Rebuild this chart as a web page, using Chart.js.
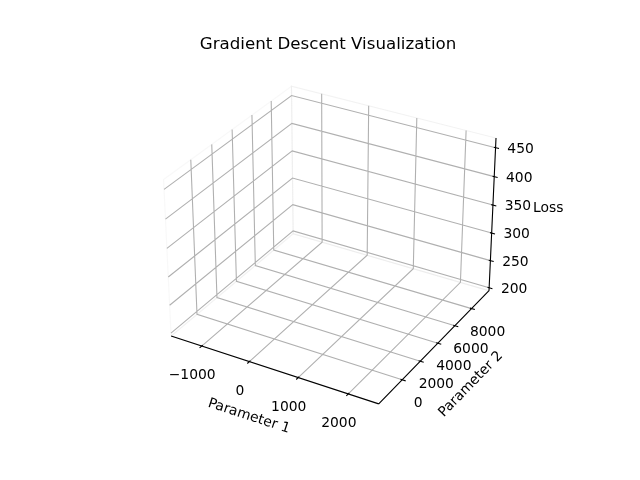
<!DOCTYPE html>
<html><head><meta charset="utf-8">
<script src="https://cdn.jsdelivr.net/npm/chart.js@4.4.0/dist/chart.umd.min.js"></script>
<style>html,body{margin:0;padding:0;background:#fff;} canvas{display:block}</style>
</head><body>
<canvas id="c" width="640" height="480"></canvas>
<script>
// ---- data ----
const chartTitle = 'Gradient Descent Visualization';
const xLabel = 'Parameter 1';
const yLabel = 'Parameter 2';
const zLabel = 'Loss';
const xLimits = [-1570, 2510];
const yLimits = [-2260, 9910];
const zLimits = [200, 461];
const xTicks = [-1000, 0, 1000, 2000];
const yTicks = [0, 2000, 4000, 6000, 8000];
const zTicks = [200, 250, 300, 350, 400, 450];

// ---- 3D view (matplotlib default: elev 30, azim -60, persp) ----
const ELEV = 30, AZIM = -60, DIST = 10;
const aspectRaw = [4, 4, 3];
const an = Math.hypot(...aspectRaw);
const box = aspectRaw.map(a => a * 1.8294640721620434 / an);
const R = box.map(b => b / 2);
const er = ELEV * Math.PI / 180, ar = AZIM * Math.PI / 180;
const ps = [Math.cos(er) * Math.cos(ar), Math.cos(er) * Math.sin(ar), Math.sin(er)];
const eye = R.map((r, i) => r + DIST * ps[i]);
const sub = (a, b) => a.map((v, i) => v - b[i]);
const dot = (a, b) => a[0] * b[0] + a[1] * b[1] + a[2] * b[2];
const cross = (a, b) => [a[1] * b[2] - a[2] * b[1], a[2] * b[0] - a[0] * b[2], a[0] * b[1] - a[1] * b[0]];
const unit = a => { const l = Math.hypot(...a); return a.map(v => v / l); };
const W = unit(sub(eye, R));
const U = unit(cross([0, 0, 1], W));
const V = cross(W, U);
const lims = [xLimits, yLimits, zLimits];
const deltas = lims.map(([lo, hi]) => (hi - lo) / 12);
const ext = lims.map(([lo, hi], i) => [lo - deltas[i] / 4, hi + deltas[i] / 4]);
function project(p) {
  const wp = p.map((val, i) => (val - lims[i][0]) / (lims[i][1] - lims[i][0]) * box[i]);
  const d = sub(wp, eye);
  const zv = dot(W, d);
  return { x: dot(U, d) / (-zv), y: dot(V, d) / (-zv) };
}
const GAP = { x: NaN, y: NaN };
function polyline(list) {
  const out = [];
  list.forEach(seg => { seg.forEach(p => out.push(project(p))); out.push(GAP); });
  return out;
}
const [X0, X1] = ext[0], [Y0, Y1] = ext[1], [Z0, Z1] = ext[2];

const gridSegs = [];
xTicks.forEach(t => gridSegs.push([[t, Y0, Z0], [t, Y1, Z0], [t, Y1, Z1]]));
yTicks.forEach(t => gridSegs.push([[X0, t, Z1], [X0, t, Z0], [X1, t, Z0]]));
zTicks.forEach(t => gridSegs.push([[X1, Y1, t], [X0, Y1, t], [X0, Y0, t]]));

const axisSegs = [
  [[X0, Y0, Z0], [X1, Y0, Z0]],
  [[X1, Y0, Z0], [X1, Y1, Z0]],
  [[X1, Y1, Z0], [X1, Y1, Z1]]
];
const tickSegs = [];
xTicks.forEach(t => tickSegs.push([[t, Y0 - 0.2 * deltas[1], Z0], [t, Y0 + 0.1 * deltas[1], Z0]]));
yTicks.forEach(t => tickSegs.push([[X1 + 0.2 * deltas[0], t, Z0], [X1 - 0.1 * deltas[0], t, Z0]]));
zTicks.forEach(t => tickSegs.push([[X1 + 0.2 * deltas[0], Y1, t], [X1 - 0.1 * deltas[0], Y1, t]]));

const paneX = [[[X0, Y0, Z0], [X0, Y1, Z0], [X0, Y1, Z1], [X0, Y0, Z1], [X0, Y0, Z0]]];
const paneY = [[[X0, Y1, Z0], [X1, Y1, Z0], [X1, Y1, Z1], [X0, Y1, Z1], [X0, Y1, Z0]]];
const paneZ = [[[X0, Y0, Z0], [X1, Y0, Z0], [X1, Y1, Z0], [X0, Y1, Z0], [X0, Y0, Z0]]];

const base = { showLine: true, pointRadius: 0, pointHoverRadius: 0, tension: 0, spanGaps: false, clip: false, fill: false };
const datasets = [
  { ...base, label: 'axes', data: polyline(axisSegs), borderColor: '#000', borderWidth: 1.1, order: 0 },
  { ...base, label: 'ticks', data: polyline(tickSegs), borderColor: '#000', borderWidth: 1.1, order: 1 },
  { ...base, label: 'grid', data: polyline(gridSegs), borderColor: '#b0b0b0', borderWidth: 1.1, order: 2 },
  { ...base, label: 'paneY', data: polyline(paneY), borderColor: 'rgba(229,229,229,0.5)', borderWidth: 1.1, order: 3 },
  { ...base, label: 'paneZ', data: polyline(paneZ), borderColor: 'rgba(236,236,236,0.5)', borderWidth: 1.1, order: 4 },
  { ...base, label: 'paneX', data: polyline(paneX), borderColor: 'rgba(242,242,242,0.5)', borderWidth: 1.1, order: 5 }
];

const FONT = '"DejaVu Sans", sans-serif';
const tickText = v => String(v).replace('-', '\u2212');
const textPlugin = {
  id: 'text3d',
  afterDraw(chart) {
    const ctx = chart.ctx, sx = chart.scales.x, sy = chart.scales.y;
    const px = p => { const q = project(p); return [sx.getPixelForValue(q.x), sy.getPixelForValue(q.y)]; };
    ctx.save();
    ctx.fillStyle = '#000';
    // title
    ctx.font = '16.67px ' + FONT;
    ctx.textAlign = 'center';
    ctx.textBaseline = 'alphabetic';
    ctx.fillText(chartTitle, (80 + 576) / 2, 49);
    // tick labels
    ctx.font = '13.89px ' + FONT;
    ctx.textBaseline = 'middle';
    xTicks.forEach(t => { const [a, b] = px([t, Y0, Z0]); ctx.fillText(tickText(t), a - 9.5, b + 29.5); });
    yTicks.forEach(t => { const [a, b] = px([X1, t, Z0]); ctx.fillText(tickText(t), a + 16, b + 23.6); });
    zTicks.forEach(t => { const [a, b] = px([X1, Y1, t]); ctx.fillText(tickText(t), a + 25, b + 1.5); });
    // axis labels
    const lab = (txt, p0, p1, off, rotate) => {
      const [a0, b0] = px(p0), [a1, b1] = px(p1);
      const cx = (a0 + a1) / 2 + off[0], cy = (b0 + b1) / 2 + off[1];
      ctx.save();
      ctx.translate(cx, cy);
      if (rotate) ctx.rotate(Math.atan2(b1 - b0, a1 - a0));
      ctx.fillText(txt, 0, 0);
      ctx.restore();
    };
    lab(xLabel, [X0, Y0, Z0], [X1, Y0, Z0], [-26, 46.3], true);
    lab(yLabel, [X1, Y0, Z0], [X1, Y1, Z0], [37, 37], true);
    lab(zLabel, [X1, Y1, Z0], [X1, Y1, Z1], [55.8, -5.5], false);
    ctx.restore();
  }
};

new Chart(document.getElementById('c'), {
  type: 'line',
  data: { datasets },
  options: {
    responsive: false,
    animation: false,
    devicePixelRatio: 1,
    events: [],
    layout: { padding: { left: 143.2, right: 127.2, top: 57.6, bottom: 52.8 } },
    scales: {
      x: { type: 'linear', min: -0.095, max: 0.09, display: false },
      y: { type: 'linear', min: -0.095, max: 0.09, display: false }
    },
    plugins: { legend: { display: false }, tooltip: { enabled: false }, title: { display: false } }
  },
  plugins: [textPlugin]
});
</script>
</body></html>
